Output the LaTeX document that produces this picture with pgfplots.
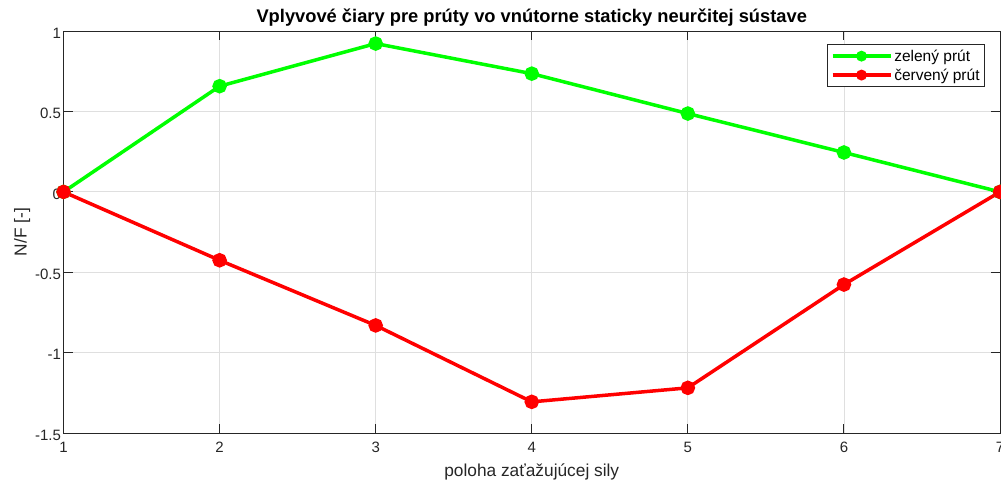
\documentclass[border=0pt]{standalone}
\usepackage{pgfplots}
\pgfplotsset{compat=1.18}
\usepackage{fontspec}
\setmainfont{Liberation Sans}
\definecolor{axgray}{RGB}{38,38,38}
\begin{document}
\begin{tikzpicture}
\begin{axis}[
  scale only axis,
  width=936pt, height=402pt,
  xmin=1, xmax=7, ymin=-1.5, ymax=1,
  xtick={1,2,3,4,5,6,7},
  ytick={-1.5,-1,-0.5,0,0.5,1},
  yticklabels={-1.5,-1,-0.5,0,0.5,1},
  xticklabels={1,2,3,4,5,6,7},
  /pgf/number format/assume math mode=true,
  grid=major,
  grid style={gray!25, line width=0.8pt},
  axis line style={axgray, line width=1pt},
  tick style={axgray, line width=1pt},
  tick align=inside,
  major tick length=9pt,
  ticklabel style={font=\fontsize{15}{17}\selectfont, text=axgray},
  xticklabel style={yshift=-5pt},
  yticklabel style={xshift=1pt, yshift=-2pt},
  title={\bfseries Vplyvové čiary pre prúty vo vnútorne staticky neurčitej sústave},
  title style={font=\fontsize{18.3}{20}\selectfont, yshift=-5pt},
  xlabel={poloha zaťažujúcej sily},
  ylabel={N/F [-]},
  label style={font=\fontsize{17.3}{19}\selectfont, text=axgray},
  xlabel style={yshift=-5pt},
  ylabel style={yshift=-2pt},
  legend style={at={(rel axis cs:0.984,0.967)}, anchor=north east,
    draw=axgray, line width=0.8pt, font=\fontsize{15.5}{17}\selectfont,
    row sep=2pt, inner sep=3pt},
  legend cell align=left,
  legend image code/.code={
    \draw[#1, line width=3.5pt] (0pt,0pt) -- (58pt,0pt);
    \fill[#1, draw=none] (29pt,0pt) circle (5.5pt);
  },
]
\addplot[color={rgb,255:red,0;green,255;blue,0}, line width=3.5pt, mark=*, mark size=5.5pt] coordinates {
(1,0) (2,0.657) (3,0.922) (4,0.735) (5,0.487) (6,0.245) (7,0)
};
\addlegendentry{zelený prút}
\addplot[color={rgb,255:red,255;green,0;blue,0}, line width=3.5pt, mark=*, mark size=5.5pt] coordinates {
(1,0) (2,-0.425) (3,-0.830) (4,-1.305) (5,-1.218) (6,-0.576) (7,0)
};
\addlegendentry{červený prút}
\end{axis}
\pgfresetboundingbox
\useasboundingbox ([xshift=-63.5pt,yshift=-49pt]current axis.south west) rectangle ([xshift=1pt,yshift=31pt]current axis.north east);
\end{tikzpicture}
\end{document}
